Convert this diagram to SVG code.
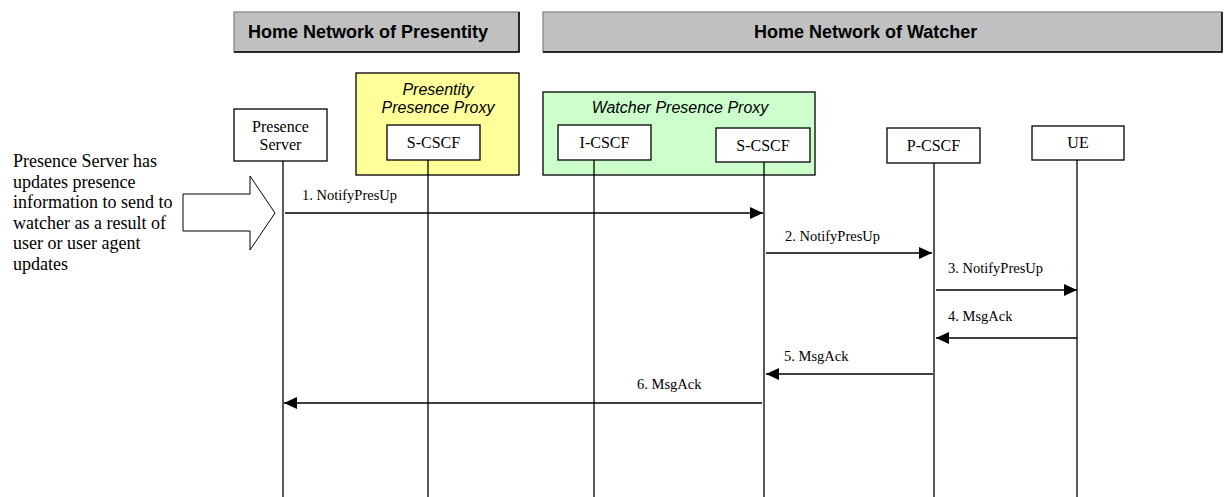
<svg xmlns="http://www.w3.org/2000/svg" width="1224" height="497" viewBox="0 0 1224 497">
<style>
.hdr{fill:#c0c0c0;stroke:#808080;stroke-width:1.2}
.hdrsh{fill:none;stroke:#000;stroke-width:1.5}
.ht{font-family:"Liberation Sans",Arial,sans-serif;font-size:18px;font-weight:bold;fill:#000}
.box{fill:#fff;stroke:#000;stroke-width:1.3}
.nt{font-family:"Liberation Serif","Times New Roman",serif;font-size:16px;fill:#000;text-anchor:middle}
.pt{font-family:"Liberation Sans",Arial,sans-serif;font-size:16px;font-style:italic;fill:#000;text-anchor:middle}
.life{stroke:#000;stroke-width:1.3;fill:none}
.msg{stroke:#000;stroke-width:1.5;fill:none}
.ml{font-family:"Liberation Serif","Times New Roman",serif;font-size:14.5px;fill:#000}
.note{font-family:"Liberation Serif","Times New Roman",serif;font-size:18px;fill:#000}
</style>
<defs>
<marker id="ah" viewBox="0 0 13 12" refX="13" refY="6" markerWidth="13" markerHeight="12" markerUnits="userSpaceOnUse" orient="auto">
<path d="M0,0 L13,6 L0,12 Z" fill="#000"/>
</marker>
</defs>

<g id="header-presentity">
<rect class="hdr" x="234" y="12" width="285" height="40"/>
<path class="hdrsh" d="M234,52 H519 V12"/>
<text class="ht" x="248" y="38">Home Network of Presentity</text>
</g>
<g id="header-watcher">
<rect class="hdr" x="543" y="12" width="679" height="40"/>
<path class="hdrsh" d="M543,52 H1222 V12"/>
<text class="ht" x="754" y="38">Home Network of Watcher</text>
</g>

<g id="note">
<text class="note" x="13" y="167">Presence Server has</text>
<text class="note" x="13" y="188">updates presence</text>
<text class="note" x="13" y="208">information to send to</text>
<text class="note" x="13" y="229">watcher as a result of</text>
<text class="note" x="13" y="249">user or user agent</text>
<text class="note" x="13" y="270">updates</text>
<polygon points="183,194 250,194 250,176 275,213 250,250 250,231 183,231" fill="#fff" stroke="#000" stroke-width="1"/>
</g>

<g id="presentity-proxy">
<rect x="356" y="73" width="163" height="102" fill="#ffff99" stroke="#000" stroke-width="1.3"/>
<text class="pt" x="438" y="95">Presentity</text>
<text class="pt" x="438" y="113">Presence Proxy</text>
</g>
<g id="watcher-proxy">
<rect x="543" y="92" width="272" height="83" fill="#ccffcc" stroke="#000" stroke-width="1.3"/>
<text class="pt" x="680" y="113">Watcher Presence Proxy</text>
</g>

<g id="presence-server">
<rect class="box" x="234" y="109" width="93" height="52"/>
<text class="nt" x="280.5" y="132">Presence</text>
<text class="nt" x="280.5" y="150">Server</text>
<line class="life" x1="283" y1="161" x2="283" y2="497"/>
</g>
<g id="p-scscf">
<rect class="box" x="387" y="125" width="93" height="35"/>
<text class="nt" x="433.5" y="148">S-CSCF</text>
<line class="life" x1="428" y1="160" x2="428" y2="497"/>
</g>
<g id="w-icscf">
<rect class="box" x="558" y="125" width="93" height="35"/>
<text class="nt" x="604.5" y="148">I-CSCF</text>
<line class="life" x1="594" y1="160" x2="594" y2="497"/>
</g>
<g id="w-scscf">
<rect class="box" x="716" y="128" width="94" height="34"/>
<text class="nt" x="763" y="151">S-CSCF</text>
<line class="life" x1="764" y1="162" x2="764" y2="497"/>
</g>
<g id="p-cscf">
<rect class="box" x="887" y="128" width="93" height="35"/>
<text class="nt" x="933.5" y="151">P-CSCF</text>
<line class="life" x1="934" y1="163" x2="934" y2="497"/>
</g>
<g id="ue">
<rect class="box" x="1032" y="126" width="92" height="34"/>
<text class="nt" x="1078" y="148">UE</text>
<line class="life" x1="1077" y1="160" x2="1077" y2="497"/>
</g>

<g id="connectors">
<line class="msg" x1="285" y1="213" x2="763" y2="213" marker-end="url(#ah)"/>
<text class="ml" x="302" y="200">1. NotifyPresUp</text>
<line class="msg" x1="766" y1="253" x2="932" y2="253" marker-end="url(#ah)"/>
<text class="ml" x="785" y="241">2. NotifyPresUp</text>
<line class="msg" x1="936" y1="290" x2="1077" y2="290" marker-end="url(#ah)"/>
<text class="ml" x="948" y="273">3. NotifyPresUp</text>
<line class="msg" x1="1077" y1="338" x2="936" y2="338" marker-end="url(#ah)"/>
<text class="ml" x="948" y="321">4. MsgAck</text>
<line class="msg" x1="933" y1="374" x2="766" y2="374" marker-end="url(#ah)"/>
<text class="ml" x="784" y="361">5. MsgAck</text>
<line class="msg" x1="762" y1="403" x2="284" y2="403" marker-end="url(#ah)"/>
<text class="ml" x="637" y="389">6. MsgAck</text>
</g>
</svg>
